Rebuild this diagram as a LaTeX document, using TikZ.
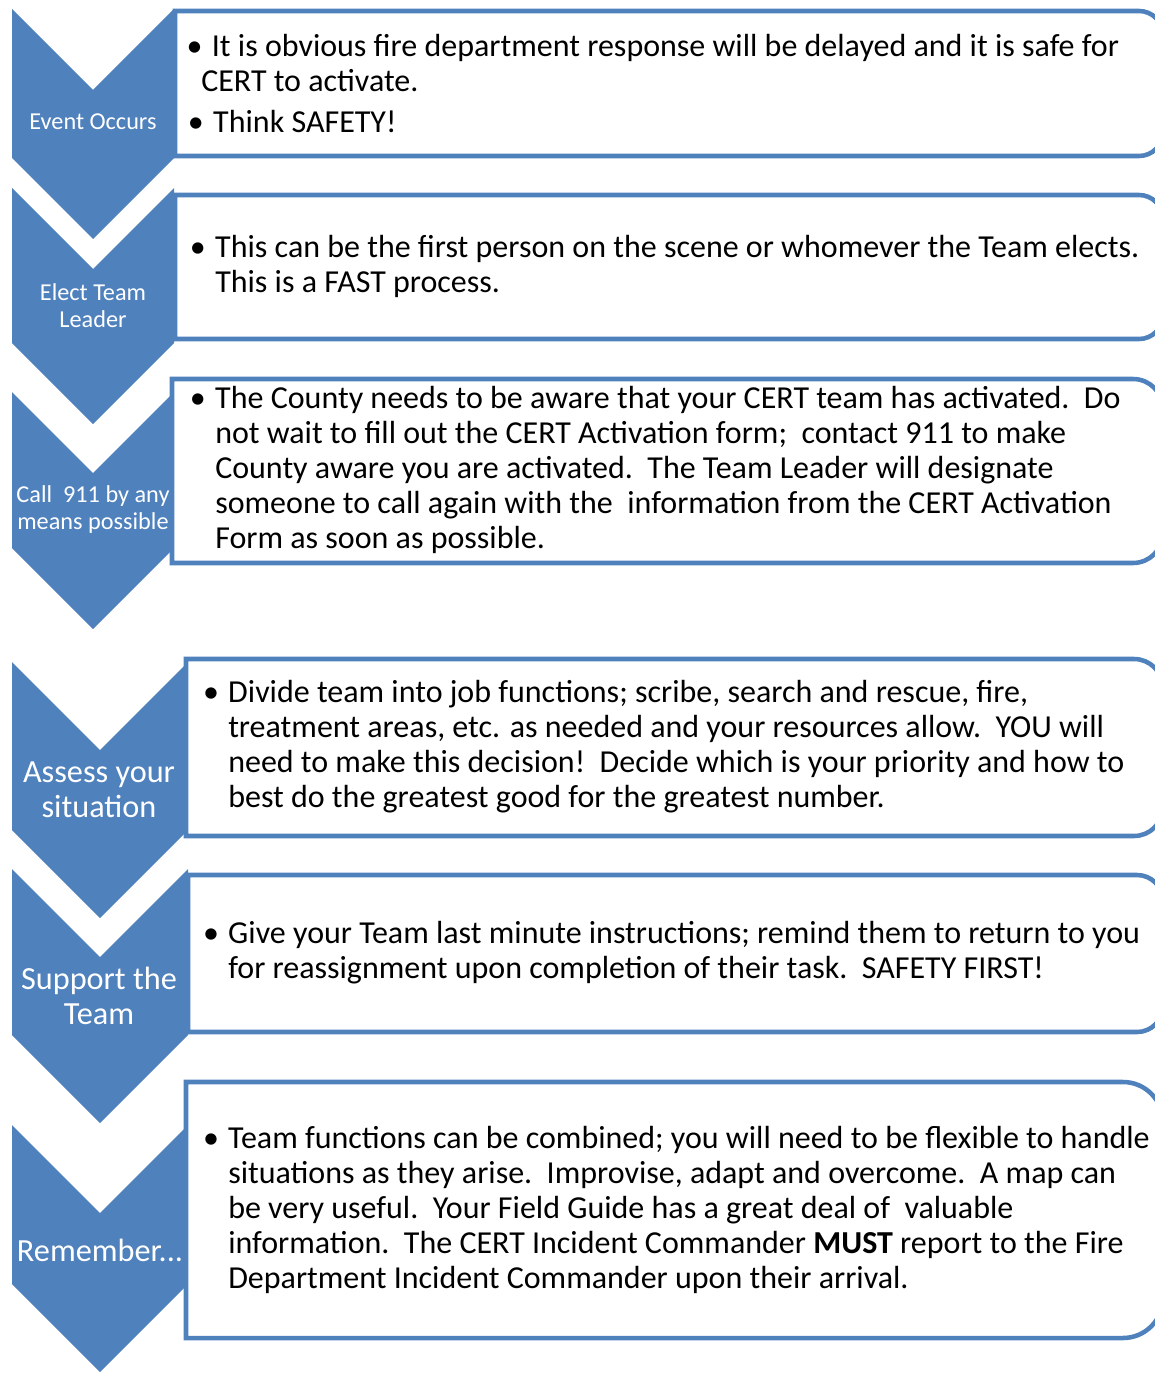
\documentclass[tikz,border=0pt]{standalone}
\usepackage{fontspec}
\setmainfont{Carlito}
\usepackage{tikz}
\usetikzlibrary{calc}
\definecolor{chevblue}{HTML}{4F81BD}
\definecolor{ink}{HTML}{000000}
\tikzset{
  chev/.style={fill=chevblue, draw=none},
  cbox/.style={draw=chevblue, line width=3.4pt, fill=white},
  clab/.style={text=white, align=center, inner sep=0pt},
  csmall/.style={font=\fontsize{18.2pt}{20.25pt}\selectfont},
  cbig/.style={font=\fontsize{24.2pt}{26pt}\selectfont},
  btxt/.style={text=ink, anchor=west, align=left, inner sep=0pt,
    font=\fontsize{24pt}{26.25pt}\selectfont}
}
\newcommand{\bul}[1][0pt]{\hspace*{#1}\llap{\textbullet\hspace{7pt}}}

\begin{document}
\begin{tikzpicture}[x=0.75pt, y=-0.75pt]
  \useasboundingbox (0,0) rectangle (1155,1373);
  \clip (0,0) rectangle (1155,1373);

  % chevrons: left, right, top, side bottom
  \foreach \xa/\xb/\ya/\yb in {12/174/9/158, 12/174/188/343, 12/174/392/548,
      12/188/662/830, 12/188/869/1035, 12/188/1125/1284}
    \fill[chev] (\xa,\ya) -- ({(\xa+\xb)/2},{\ya+(\xb-\xa)/2}) -- (\xb,\ya)
      -- (\xb,\yb) -- ({(\xa+\xb)/2},{\yb+(\xb-\xa)/2}) -- (\xa,\yb) -- cycle;

  % text boxes: left, top, bottom, corner radius
  \def\xR{1163}
  \foreach \bl/\bt/\bb/\br in {175/11/156/24, 175/195/339/24, 172/379/563/30,
      186/659/836/29, 188/875/1032/26, 186/1082/1338/40}
    \draw[cbox] (\bl,\bt) -- ({\xR-\br},\bt)
      arc[start angle=90, end angle=0, radius=\br*0.75pt]
      -- (\xR,{\bb-\br})
      arc[start angle=0, end angle=-90, radius=\br*0.75pt]
      -- (\bl,\bb) -- cycle;

  % chevron labels
  \node[clab, csmall] (evt) at (93,122) {Event Occurs};
  \node[clab, csmall] (elect) at (93,306) {Elect Team\\Leader};
  \node[clab, csmall] (call) at (93,510) {Call\ \ 911 by any\\means possible};
  \node[clab, cbig] (assess) at (99,790) {Assess your\\situation};
  \node[clab, cbig] (support) at (99,996) {Support the\\Team};
  \node[clab, cbig] (remember) at (100,1250) {Remember...};

  % box texts
  \node[btxt] (t1) at (201,83.5) {\bul[8pt]It is obvious fire department response will be delayed and it is safe for\\
    CERT to activate.\\[4pt]
    \bul[9pt]Think SAFETY!};
  \node[btxt] (t2) at (215,266) {\bul This can be the first person on the scene or whomever the Team elects.\\
    This is a FAST process.};
  \node[btxt] (t3) at (215,470) {\bul The County needs to be aware that your CERT team has activated.\ \ Do\\
    not wait to fill out the CERT Activation form;\ \ contact 911 to make\\
    County aware you are activated.\ \ The Team Leader will designate\\
    someone to call again with the\ \ information from the CERT Activation\\
    Form as soon as possible.};
  \node[btxt] (t4) at (228,747) {\bul Divide team into job functions; scribe, search and rescue, fire,\\
    treatment areas, etc. as needed and your resources allow.\ \ YOU will\\
    need to make this decision!\ \ Decide which is your priority and how to\\
    best do the greatest good for the greatest number.};
  \node[btxt] (t5) at (228,953) {\bul Give your Team last minute instructions; remind them to return to you\\
    for reassignment upon completion of their task.\ \ SAFETY FIRST!};
  \node[btxt] (t6) at (228,1210) {\bul Team functions can be combined; you will need to be flexible to handle\\
    situations as they arise.\ \ Improvise, adapt and overcome.\ \ A map can\\
    be very useful.\ \ Your Field Guide has a great deal of\ \ valuable\\
    information.\ \ The CERT Incident Commander \textbf{MUST} report to the Fire\\
    Department Incident Commander upon their arrival.};
\end{tikzpicture}
\end{document}
